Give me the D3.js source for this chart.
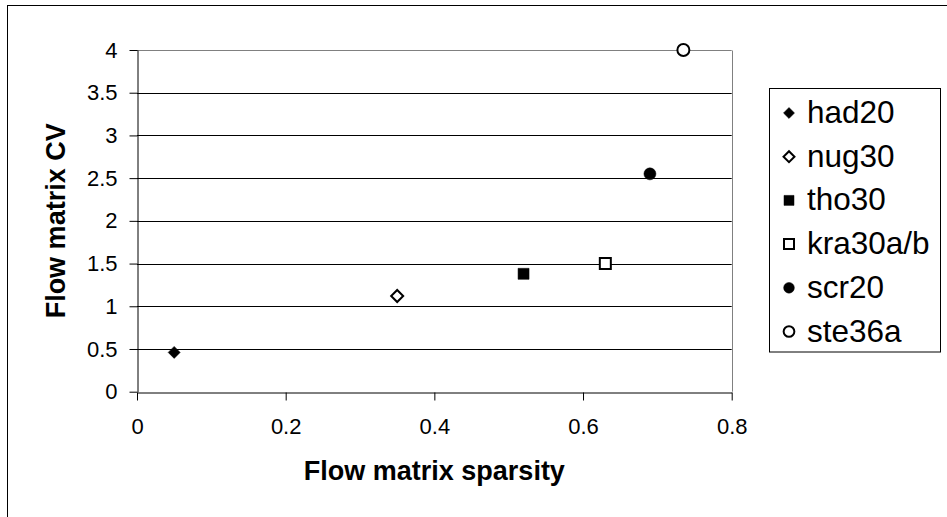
<!DOCTYPE html>
<html>
<head>
<meta charset="utf-8">
<script src="https://cdn.jsdelivr.net/npm/d3@7"></script>
<style>
  body { margin: 0; background: #fff; }
  svg { display: block; font-family: "Liberation Sans", Arial, sans-serif; }
</style>
</head>
<body>
<svg id="chart" width="947" height="517"></svg>
<script>
// data
var names = ["had20", "nug30", "tho30", "kra30a/b", "scr20", "ste36a"];
var sparsity = [0.05, 0.35, 0.52, 0.63, 0.69, 0.735];
var flowCV = [0.46, 1.12, 1.38, 1.5, 2.55, 4.0];
var xTicks = [0, 0.2, 0.4, 0.6, 0.8];
var yTicks = [0, 0.5, 1, 1.5, 2, 2.5, 3, 3.5, 4];

// marker style per series: shape + filled or not
var shapes = ["diamond", "diamond", "square", "square", "circle", "circle"];
var filled = [true, false, true, false, true, false];

function init() {
  var left = 137, right = 731.7, top = 50, bottom = 391.7;

  var x = d3.scaleLinear().domain([0, 0.8]).range([left, right]);
  var y = d3.scaleLinear().domain([0, 4]).range([bottom, top]);

  var svg = d3.select("#chart");

  // outer chart frame (runs off the right and bottom of the picture)
  svg.append("rect")
    .attr("x", 7.5).attr("y", 5.5)
    .attr("width", 1000).attr("height", 600)
    .attr("fill", "none").attr("stroke", "#000").attr("stroke-width", 1);

  // gridlines
  svg.append("g").selectAll("line")
    .data(yTicks.filter(function (d) { return d > 0; }))
    .enter().append("line")
    .attr("x1", left).attr("x2", right)
    .attr("y1", function (d) { return Math.round(y(d)) + 0.5; })
    .attr("y2", function (d) { return Math.round(y(d)) + 0.5; })
    .attr("stroke", function (d) { return d === 4 ? "#808080" : "#000"; })
    .attr("stroke-width", 1);

  // plot area border, right side
  svg.append("line")
    .attr("x1", Math.round(right) + 0.5).attr("x2", Math.round(right) + 0.5)
    .attr("y1", Math.round(top) + 0.5).attr("y2", bottom)
    .attr("stroke", "#808080");

  var xAxis = d3.axisBottom(x).tickValues(xTicks).tickFormat(d3.format(""))
    .tickSizeInner(8).tickSizeOuter(0).tickPadding(18);
  var yAxis = d3.axisLeft(y).tickValues(yTicks).tickFormat(d3.format(""))
    .tickSizeInner(8).tickSizeOuter(0).tickPadding(12);

  var gx = svg.append("g")
    .attr("transform", "translate(0," + (Math.round(bottom) + 0.5) + ")")
    .call(xAxis);
  var gy = svg.append("g")
    .attr("transform", "translate(" + (Math.round(left) + 0.5) + ",0)")
    .call(yAxis);

  [gx, gy].forEach(function (g) {
    g.select(".domain").attr("stroke", "#000");
    g.selectAll(".tick line").attr("stroke", "#000");
    g.selectAll(".tick text")
      .attr("fill", "#000")
      .style("font-size", "22px")
      .style("font-family", "'Liberation Sans', Arial, sans-serif");
  });

  // axis titles
  svg.append("text")
    .attr("x", (left + right) / 2).attr("y", 480)
    .attr("text-anchor", "middle")
    .style("font-size", "27px").style("font-weight", "bold")
    .text("Flow matrix sparsity");

  svg.append("text")
    .attr("transform", "translate(65," + (top + bottom) / 2 + ") rotate(-90)")
    .attr("text-anchor", "middle")
    .style("font-size", "27px").style("font-weight", "bold")
    .text("Flow matrix CV");

  function markerPath(shape, big) {
    if (shape === "diamond") return d3.symbol(d3.symbolSquare, big ? 72 : 60)();
    if (shape === "square") return d3.symbol(d3.symbolSquare, big ? 121 : 100)();
    return d3.symbol(d3.symbolCircle, big ? 113 : 90)();
  }

  function drawMarker(g, i, cx, cy, big) {
    g.append("path")
      .attr("d", markerPath(shapes[i], big))
      .attr("transform", "translate(" + cx + "," + cy + ")" + (shapes[i] === "diamond" ? " rotate(45)" : ""))
      .attr("fill", filled[i] ? "#000" : "#fff")
      .attr("stroke", "#000")
      .attr("stroke-width", filled[i] ? 0.5 : 2);
  }

  // points
  var pts = svg.append("g");
  names.forEach(function (n, i) {
    drawMarker(pts, i, x(sparsity[i]), y(flowCV[i]), true);
  });

  // legend
  var leg = svg.append("g");
  leg.append("rect")
    .attr("x", 769.5).attr("y", 88.5)
    .attr("width", 171).attr("height", 263.5)
    .attr("fill", "#fff").attr("stroke", "#000").attr("stroke-width", 1);

  names.forEach(function (n, i) {
    var base = 123 + i * 43.7;
    drawMarker(leg, i, 789, base - 10, false);
    leg.append("text")
      .attr("x", 807).attr("y", base)
      .style("font-size", "31.5px")
      .text(n);
  });
}

window.addEventListener("DOMContentLoaded", init);
</script>
</body>
</html>
